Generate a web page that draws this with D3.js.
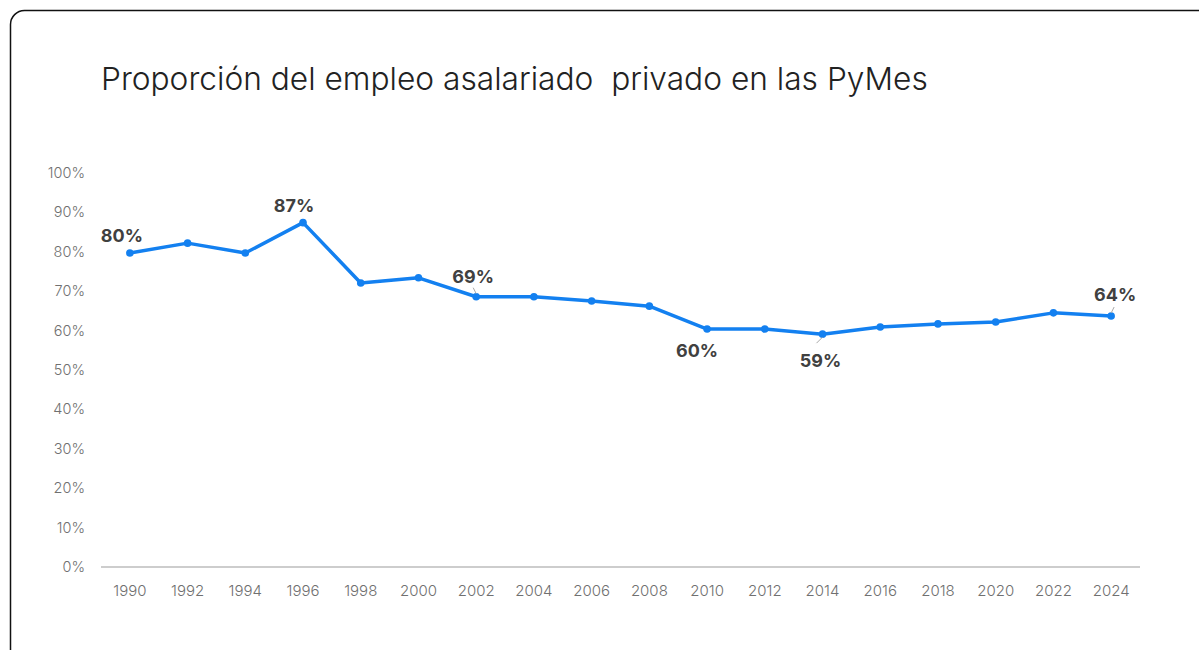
<!DOCTYPE html>
<html>
<head>
<meta charset="utf-8">
<script src="https://d3js.org/d3.v7.min.js"></script>
<style>
  body { margin: 0; background: #fff; }
  svg text { font-family: Inter, 'Open Sans', sans-serif; }
</style>
</head>
<body>
<svg id="chart" width="1199" height="650"></svg>
<script>
// data
var years = ["1990","1992","1994","1996","1998","2000","2002","2004","2006","2008",
             "2010","2012","2014","2016","2018","2020","2022","2024"];
var share = [79.7, 82.2, 79.7, 87.4, 72.1, 73.4, 68.6, 68.6, 67.5, 66.2,
             60.4, 60.4, 59.1, 60.9, 61.7, 62.2, 64.5, 63.7];
var yTicks = [0, 10, 20, 30, 40, 50, 60, 70, 80, 90, 100];
// which points carry a label, and where it sits
var labelled = ["1990", "1996", "2002", "2010", "2014", "2024"];
var labelPos = {
  "1990": { dx: -8, dy: -11, lead: false },
  "1996": { dx: -9, dy: -11, lead: false },
  "2002": { dx: -3, dy: -14, lead: true },
  "2010": { dx: -10, dy: 28, lead: false },
  "2014": { dx: -2, dy: 33, lead: true },
  "2024": { dx: 4, dy: -15, lead: true }
};

var svg = d3.select("#chart");

// frame
svg.append("rect")
  .attr("x", 10.5).attr("y", 10.5)
  .attr("width", 1260).attr("height", 700)
  .attr("rx", 14)
  .attr("fill", "none")
  .attr("stroke", "#111")
  .attr("stroke-width", 1.5);

svg.append("text")
  .attr("x", 101).attr("y", 90)
  .attr("font-size", 31.7)
  .attr("font-weight", 300)
  .attr("fill", "#222")
  .style("white-space", "pre")
  .text("Proporción del empleo asalariado  privado en las PyMes");

var mLeft = 101, mRight = 1140, mTop = 173, mBottom = 567;

var x = d3.scaleBand().domain(years).range([mLeft, mRight]);
var y = d3.scaleLinear().domain([0, 100]).range([mBottom, mTop]);

// y labels (no gridlines)
svg.append("g")
  .selectAll("text")
  .data(yTicks)
  .enter()
  .append("text")
  .attr("x", 85)
  .attr("y", d => y(d) + 5)
  .attr("text-anchor", "end")
  .attr("font-size", 14.5)
  .attr("font-weight", 300)
  .attr("fill", "#707070")
  .text(d => d + "%");

// baseline
svg.append("line")
  .attr("x1", mLeft).attr("x2", mRight)
  .attr("y1", mBottom).attr("y2", mBottom)
  .attr("stroke", "#bdbdbd")
  .attr("stroke-width", 1.5);

svg.append("g")
  .selectAll("text")
  .data(years)
  .enter()
  .append("text")
  .attr("x", d => x(d) + x.bandwidth() / 2)
  .attr("y", 596)
  .attr("text-anchor", "middle")
  .attr("font-size", 15)
  .attr("font-weight", 300)
  .attr("fill", "#707070")
  .text(d => d);

var pts = years.map((yr, i) => ({ year: yr, v: share[i] }));
var cx = d => x(d.year) + x.bandwidth() / 2;

svg.append("path")
  .datum(pts)
  .attr("fill", "none")
  .attr("stroke", "#1380f0")
  .attr("stroke-width", 3.5)
  .attr("stroke-linejoin", "round")
  .attr("d", d3.line().x(cx).y(d => y(d.v)));

svg.append("g")
  .selectAll("circle")
  .data(pts)
  .enter()
  .append("circle")
  .attr("cx", cx)
  .attr("cy", d => y(d.v))
  .attr("r", 3.8)
  .attr("fill", "#1380f0");

var lab = pts.filter(d => labelled.indexOf(d.year) >= 0);

// leader lines
svg.append("g")
  .selectAll("line")
  .data(lab.filter(d => labelPos[d.year].lead))
  .enter()
  .append("line")
  .attr("x1", cx)
  .attr("y1", d => y(d.v) + (labelPos[d.year].dy < 0 ? -3 : 3))
  .attr("x2", d => cx(d) + (labelPos[d.year].dx < 0 ? -6 : 6) * (labelPos[d.year].dy < 0 ? 0.5 : 1))
  .attr("y2", d => y(d.v) + (labelPos[d.year].dy < 0 ? -9 : 9))
  .attr("stroke", "#a8a8a8")
  .attr("stroke-width", 1);

svg.append("g")
  .selectAll("text")
  .data(lab)
  .enter()
  .append("text")
  .attr("x", d => cx(d) + labelPos[d.year].dx)
  .attr("y", d => y(d.v) + labelPos[d.year].dy)
  .attr("text-anchor", "middle")
  .attr("font-size", 18)
  .attr("font-weight", 700)
  .attr("fill", "#404040")
  .text(d => Math.round(d.v) + "%");
</script>
</body>
</html>
